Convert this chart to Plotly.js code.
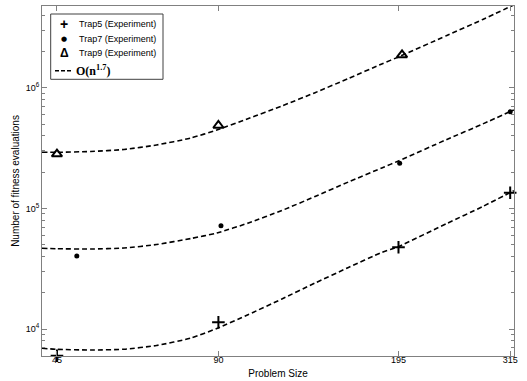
<!DOCTYPE html>
<html>
<head>
<meta charset="utf-8">
<script src="https://cdn.plot.ly/plotly-3.0.1.min.js"></script>
<style>html,body{margin:0;padding:0;background:#fff;}#chart{width:527px;height:381px;}</style>
</head>
<body>
<div id="chart"></div>
<script>
// Experimental points
const trap5X = [45, 90, 195, 315];
const trap5Y = [6000, 11370, 47650, 135200];
const trap7X = [49, 91, 196, 315];
const trap7Y = [40360, 71960, 237000, 635000];
const trap9X = [45, 90, 198, 315];
const trap9Y = [283000, 488000, 1880000, 4790000];

// Dashed O(n^1.7) fit curves
const fitX = [42.2, 45, 52, 60, 69, 80, 89.4, 102.4, 118.2, 136.3, 157.3, 181.5, 195, 240, 280, 320];
const fit5Y = [6918, 6785, 6695, 6799, 7298, 8419, 10096, 13195, 17742, 24086, 32380, 43140, 48360, 75070, 103900, 140500];
const fit7Y = [46730, 46370, 46110, 47000, 50250, 56360, 62610, 75810, 96250, 125800, 165900, 216900, 247900, 373800, 502600, 656800];
const fit9Y = [292600, 292600, 297200, 308800, 336500, 384700, 448200, 558400, 708900, 914100, 1199000, 1582000, 1808000, 2727000, 3702000, 4885000];

// Axis ticks
const xTickVals = [45, 90, 195, 315];
const xTickText = ['45', '90', '195', '315'];
const yTickVals = [1e4, 1e5, 1e6];
const yTickText = ['10<sup>4</sup>', '10<sup>5</sup>', '10<sup>6</sup>'];
const yMinorVals = [7000, 8000, 9000, 20000, 30000, 40000, 50000, 60000, 70000, 80000, 90000,
  200000, 300000, 400000, 500000, 600000, 700000, 800000, 900000, 2000000, 3000000, 4000000];

// Legend labels
const legendLabels = ['Trap5 (Experiment)', 'Trap7 (Experiment)', 'Trap9 (Experiment)'];
const legendSymbols = ['<b>+</b>', '●', '<b>Δ</b>'];
const fitLabel = '<b>O(n<sup>1.7</sup>)</b>';

const SANS = 'Liberation Sans, Arial, sans-serif';
const dashStyle = {color: '#000', width: 1.6, dash: '5px,3px', shape: 'spline', smoothing: 0.6};

const traces = [
  {x: trap5X, y: trap5Y, mode: 'markers', name: legendLabels[0], cliponaxis: false,
   marker: {symbol: 'cross-thin-open', size: 9, color: '#000', line: {color: '#000', width: 2}}},
  {x: trap7X, y: trap7Y, mode: 'markers', name: legendLabels[1], cliponaxis: false,
   marker: {symbol: 'circle', size: 5, color: '#000'}},
  {x: trap9X, y: trap9Y, mode: 'markers', name: legendLabels[2], cliponaxis: false,
   marker: {symbol: 'triangle-up-open', size: 9, color: '#000', line: {color: '#000', width: 2}}},
  {x: fitX, y: fit5Y, mode: 'lines', name: 'fit5', line: dashStyle},
  {x: fitX, y: fit7Y, mode: 'lines', name: 'fit7', line: dashStyle},
  {x: fitX, y: fit9Y, mode: 'lines', name: 'fit9', line: dashStyle}
];

// pixel -> paper helpers for the hand-built legend box
const L = 42, T = 6, W = 472, H = 350;
const px = v => (v - L) / W;
const py = v => (T + H - v) / H;

const rowY = [24, 39, 53.3];
const annotations = [];
legendLabels.forEach((lab, i) => {
  annotations.push({xref: 'paper', yref: 'paper', x: px(64.3), y: py(rowY[i]), xanchor: 'center', yanchor: 'middle',
    text: legendSymbols[i], showarrow: false,
    font: {family: i === 1 ? 'DejaVu Sans' : SANS, size: i === 1 ? 7 : (i === 0 ? 14 : 12), color: '#000'}});
  annotations.push({xref: 'paper', yref: 'paper', x: px(77.3), y: py(rowY[i]), xanchor: 'left', yanchor: 'middle',
    text: lab, showarrow: false, font: {family: SANS, size: 9, color: '#000'}});
});
annotations.push({xref: 'paper', yref: 'paper', x: px(74), y: py(70.2), xanchor: 'left', yanchor: 'middle',
  text: fitLabel, showarrow: false, font: {family: 'Liberation Serif, Times New Roman, serif', size: 12, color: '#000'}});

const shapes = [
  {type: 'rect', xref: 'paper', yref: 'paper', x0: px(50.7), x1: px(163), y0: py(79.3), y1: py(14),
   line: {color: '#404040', width: 1}, fillcolor: '#fff', layer: 'above'},
  {type: 'line', xref: 'paper', yref: 'paper', x0: px(55), x1: px(71.7), y0: py(70.7), y1: py(70.7),
   line: {color: '#000', width: 1.6, dash: '4px,2px'}, layer: 'above'}
];

const axisCommon = {
  type: 'log', showgrid: false, zeroline: false, showline: true, linecolor: '#808080', linewidth: 1,
  mirror: 'ticks', ticks: 'inside', ticklen: 5, tickcolor: '#808080', tickwidth: 1,
  tickfont: {family: SANS, size: 9, color: '#000'}
};

const layout = {
  width: 527, height: 381,
  margin: {l: L, r: 527 - L - W, t: T, b: 381 - T - H, pad: 0},
  paper_bgcolor: '#fff', plot_bgcolor: '#fff',
  font: {family: SANS, size: 9, color: '#000'},
  showlegend: false,
  annotations: annotations,
  shapes: shapes,
  xaxis: Object.assign({}, axisCommon, {
    range: [Math.log10(42.2), Math.log10(320.2)],
    tickmode: 'array', tickvals: xTickVals, ticktext: xTickText, ticklabelstandoff: -5,
    title: {text: 'Problem Size', font: {size: 10, family: SANS}, standoff: 6}
  }),
  yaxis: Object.assign({}, axisCommon, {
    range: [3.776, 6.680],
    tickmode: 'array', tickvals: yTickVals, ticktext: yTickText,
    minor: {tickmode: 'array', tickvals: yMinorVals, ticks: 'inside', ticklen: 3, tickcolor: '#808080', showgrid: false},
    title: {text: 'Number of fitness evaluations', font: {size: 10, family: SANS}, standoff: 4}
  })
};

Plotly.newPlot('chart', traces, layout, {displayModeBar: false, staticPlot: true});
</script>
</body>
</html>
